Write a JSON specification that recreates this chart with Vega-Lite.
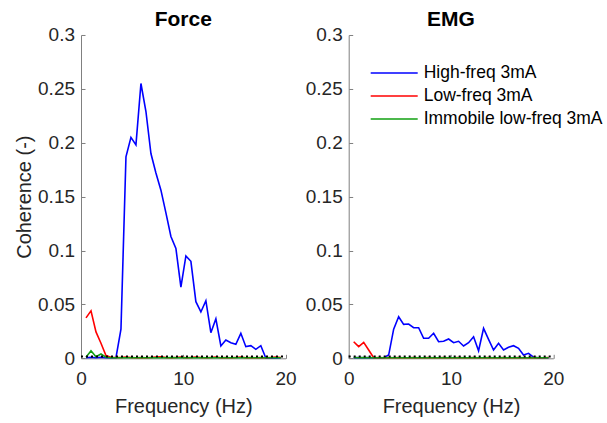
{
  "$schema": "https://vega.github.io/schema/vega-lite/v6.json",
  "background": "white",
  "padding": {"left": 14, "top": 9, "right": 5, "bottom": 5},
  "datasets": {
    "force": [
      {"f": 0.488, "High-freq 3mA": 0.0005, "Low-freq 3mA": 0.0375, "Immobile low-freq 3mA": 0.001},
      {"f": 0.977, "High-freq 3mA": 0.001, "Low-freq 3mA": 0.044, "Immobile low-freq 3mA": 0.007},
      {"f": 1.465, "High-freq 3mA": 0.0005, "Low-freq 3mA": 0.0245, "Immobile low-freq 3mA": 0.0015},
      {"f": 1.953, "High-freq 3mA": 0.001, "Low-freq 3mA": 0.014, "Immobile low-freq 3mA": 0.004},
      {"f": 2.441, "High-freq 3mA": 0.0005, "Low-freq 3mA": 0.0025, "Immobile low-freq 3mA": 0.001},
      {"f": 2.93, "High-freq 3mA": 0.0005, "Low-freq 3mA": 0.001, "Immobile low-freq 3mA": 0.0005},
      {"f": 3.418, "High-freq 3mA": 0.0005, "Low-freq 3mA": 0.0008, "Immobile low-freq 3mA": 0.0005},
      {"f": 3.906, "High-freq 3mA": 0.027, "Low-freq 3mA": 0.0008, "Immobile low-freq 3mA": 0.0005},
      {"f": 4.395, "High-freq 3mA": 0.187, "Low-freq 3mA": 0.0012, "Immobile low-freq 3mA": 0.0005},
      {"f": 4.883, "High-freq 3mA": 0.205, "Low-freq 3mA": 0.0008, "Immobile low-freq 3mA": 0.0005},
      {"f": 5.371, "High-freq 3mA": 0.198, "Low-freq 3mA": 0.0005, "Immobile low-freq 3mA": 0.0005},
      {"f": 5.859, "High-freq 3mA": 0.255, "Low-freq 3mA": 0.0008, "Immobile low-freq 3mA": 0.0005},
      {"f": 6.348, "High-freq 3mA": 0.229, "Low-freq 3mA": 0.0005, "Immobile low-freq 3mA": 0.0005},
      {"f": 6.836, "High-freq 3mA": 0.19, "Low-freq 3mA": 0.0008, "Immobile low-freq 3mA": 0.0005},
      {"f": 7.324, "High-freq 3mA": 0.172, "Low-freq 3mA": 0.0012, "Immobile low-freq 3mA": 0.0005},
      {"f": 7.813, "High-freq 3mA": 0.156, "Low-freq 3mA": 0.0015, "Immobile low-freq 3mA": 0.0005},
      {"f": 8.301, "High-freq 3mA": 0.135, "Low-freq 3mA": 0.0008, "Immobile low-freq 3mA": 0.0005},
      {"f": 8.789, "High-freq 3mA": 0.113, "Low-freq 3mA": 0.0005, "Immobile low-freq 3mA": 0.0008},
      {"f": 9.277, "High-freq 3mA": 0.102, "Low-freq 3mA": 0.0008, "Immobile low-freq 3mA": 0.0005},
      {"f": 9.766, "High-freq 3mA": 0.066, "Low-freq 3mA": 0.0012, "Immobile low-freq 3mA": 0.0005},
      {"f": 10.254, "High-freq 3mA": 0.095, "Low-freq 3mA": 0.0005, "Immobile low-freq 3mA": 0.0005},
      {"f": 10.742, "High-freq 3mA": 0.09, "Low-freq 3mA": 0.0008, "Immobile low-freq 3mA": 0.0005},
      {"f": 11.23, "High-freq 3mA": 0.0525, "Low-freq 3mA": 0.0012, "Immobile low-freq 3mA": 0.0005},
      {"f": 11.719, "High-freq 3mA": 0.043, "Low-freq 3mA": 0.0008, "Immobile low-freq 3mA": 0.0005},
      {"f": 12.207, "High-freq 3mA": 0.0534, "Low-freq 3mA": 0.0005, "Immobile low-freq 3mA": 0.0005},
      {"f": 12.695, "High-freq 3mA": 0.0238, "Low-freq 3mA": 0.0008, "Immobile low-freq 3mA": 0.0005},
      {"f": 13.184, "High-freq 3mA": 0.0367, "Low-freq 3mA": 0.0012, "Immobile low-freq 3mA": 0.0005},
      {"f": 13.672, "High-freq 3mA": 0.0114, "Low-freq 3mA": 0.0005, "Immobile low-freq 3mA": 0.0005},
      {"f": 14.16, "High-freq 3mA": 0.017, "Low-freq 3mA": 0.0008, "Immobile low-freq 3mA": 0.0005},
      {"f": 14.648, "High-freq 3mA": 0.0145, "Low-freq 3mA": 0.0005, "Immobile low-freq 3mA": 0.0005},
      {"f": 15.137, "High-freq 3mA": 0.013, "Low-freq 3mA": 0.0008, "Immobile low-freq 3mA": 0.0005},
      {"f": 15.625, "High-freq 3mA": 0.0232, "Low-freq 3mA": 0.0012, "Immobile low-freq 3mA": 0.0005},
      {"f": 16.113, "High-freq 3mA": 0.0108, "Low-freq 3mA": 0.0005, "Immobile low-freq 3mA": 0.0005},
      {"f": 16.602, "High-freq 3mA": 0.0117, "Low-freq 3mA": 0.0008, "Immobile low-freq 3mA": 0.0005},
      {"f": 17.09, "High-freq 3mA": 0.0083, "Low-freq 3mA": 0.0005, "Immobile low-freq 3mA": 0.0005},
      {"f": 17.578, "High-freq 3mA": 0.0117, "Low-freq 3mA": 0.0008, "Immobile low-freq 3mA": 0.0005},
      {"f": 18.066, "High-freq 3mA": 0.0003, "Low-freq 3mA": 0.0005, "Immobile low-freq 3mA": 0.0005},
      {"f": 18.555, "High-freq 3mA": 0.0005, "Low-freq 3mA": 0.0008, "Immobile low-freq 3mA": 0.0005},
      {"f": 19.043, "High-freq 3mA": 0.0003, "Low-freq 3mA": 0.0012, "Immobile low-freq 3mA": 0.0005},
      {"f": 19.531, "High-freq 3mA": 0.0005, "Low-freq 3mA": 0.0008, "Immobile low-freq 3mA": 0.0005}
    ],
    "emg": [
      {"f": 0.488, "High-freq 3mA": 0.0005, "Low-freq 3mA": 0.0154, "Immobile low-freq 3mA": 0.0008},
      {"f": 0.977, "High-freq 3mA": 0.0008, "Low-freq 3mA": 0.0108, "Immobile low-freq 3mA": 0.0005},
      {"f": 1.465, "High-freq 3mA": 0.0005, "Low-freq 3mA": 0.0148, "Immobile low-freq 3mA": 0.0008},
      {"f": 1.953, "High-freq 3mA": 0.0008, "Low-freq 3mA": 0.0077, "Immobile low-freq 3mA": 0.0005},
      {"f": 2.441, "High-freq 3mA": 0.0005, "Low-freq 3mA": 0.0005, "Immobile low-freq 3mA": 0.0005},
      {"f": 2.93, "High-freq 3mA": 0.0005, "Low-freq 3mA": 0.0008, "Immobile low-freq 3mA": 0.0005},
      {"f": 3.418, "High-freq 3mA": 0.0005, "Low-freq 3mA": 0.0005, "Immobile low-freq 3mA": 0.0005},
      {"f": 3.906, "High-freq 3mA": 0.003, "Low-freq 3mA": 0.0008, "Immobile low-freq 3mA": 0.0005},
      {"f": 4.395, "High-freq 3mA": 0.027, "Low-freq 3mA": 0.0005, "Immobile low-freq 3mA": 0.0005},
      {"f": 4.883, "High-freq 3mA": 0.0386, "Low-freq 3mA": 0.0008, "Immobile low-freq 3mA": 0.0005},
      {"f": 5.371, "High-freq 3mA": 0.0315, "Low-freq 3mA": 0.0005, "Immobile low-freq 3mA": 0.0005},
      {"f": 5.859, "High-freq 3mA": 0.0318, "Low-freq 3mA": 0.0005, "Immobile low-freq 3mA": 0.0005},
      {"f": 6.348, "High-freq 3mA": 0.0284, "Low-freq 3mA": 0.0008, "Immobile low-freq 3mA": 0.0005},
      {"f": 6.836, "High-freq 3mA": 0.0284, "Low-freq 3mA": 0.0005, "Immobile low-freq 3mA": 0.0005},
      {"f": 7.324, "High-freq 3mA": 0.0186, "Low-freq 3mA": 0.0005, "Immobile low-freq 3mA": 0.0005},
      {"f": 7.813, "High-freq 3mA": 0.0186, "Low-freq 3mA": 0.0008, "Immobile low-freq 3mA": 0.0005},
      {"f": 8.301, "High-freq 3mA": 0.0232, "Low-freq 3mA": 0.0005, "Immobile low-freq 3mA": 0.0005},
      {"f": 8.789, "High-freq 3mA": 0.0154, "Low-freq 3mA": 0.0005, "Immobile low-freq 3mA": 0.0005},
      {"f": 9.277, "High-freq 3mA": 0.0158, "Low-freq 3mA": 0.0008, "Immobile low-freq 3mA": 0.0005},
      {"f": 9.766, "High-freq 3mA": 0.0179, "Low-freq 3mA": 0.0005, "Immobile low-freq 3mA": 0.0005},
      {"f": 10.254, "High-freq 3mA": 0.0145, "Low-freq 3mA": 0.0005, "Immobile low-freq 3mA": 0.0005},
      {"f": 10.742, "High-freq 3mA": 0.0158, "Low-freq 3mA": 0.0008, "Immobile low-freq 3mA": 0.0005},
      {"f": 11.23, "High-freq 3mA": 0.0114, "Low-freq 3mA": 0.0005, "Immobile low-freq 3mA": 0.0005},
      {"f": 11.719, "High-freq 3mA": 0.0145, "Low-freq 3mA": 0.0005, "Immobile low-freq 3mA": 0.0005},
      {"f": 12.207, "High-freq 3mA": 0.02, "Low-freq 3mA": 0.0008, "Immobile low-freq 3mA": 0.0005},
      {"f": 12.695, "High-freq 3mA": 0.007, "Low-freq 3mA": 0.0005, "Immobile low-freq 3mA": 0.0005},
      {"f": 13.184, "High-freq 3mA": 0.0278, "Low-freq 3mA": 0.0005, "Immobile low-freq 3mA": 0.0005},
      {"f": 13.672, "High-freq 3mA": 0.0176, "Low-freq 3mA": 0.0008, "Immobile low-freq 3mA": 0.0005},
      {"f": 14.16, "High-freq 3mA": 0.0077, "Low-freq 3mA": 0.0005, "Immobile low-freq 3mA": 0.0005},
      {"f": 14.648, "High-freq 3mA": 0.0139, "Low-freq 3mA": 0.0005, "Immobile low-freq 3mA": 0.0005},
      {"f": 15.137, "High-freq 3mA": 0.0077, "Low-freq 3mA": 0.0008, "Immobile low-freq 3mA": 0.0005},
      {"f": 15.625, "High-freq 3mA": 0.0102, "Low-freq 3mA": 0.0005, "Immobile low-freq 3mA": 0.0005},
      {"f": 16.113, "High-freq 3mA": 0.0117, "Low-freq 3mA": 0.0005, "Immobile low-freq 3mA": 0.0005},
      {"f": 16.602, "High-freq 3mA": 0.0093, "Low-freq 3mA": 0.0008, "Immobile low-freq 3mA": 0.0005},
      {"f": 17.09, "High-freq 3mA": 0.003, "Low-freq 3mA": 0.0005, "Immobile low-freq 3mA": 0.0005},
      {"f": 17.578, "High-freq 3mA": 0.0046, "Low-freq 3mA": 0.0005, "Immobile low-freq 3mA": 0.0005},
      {"f": 18.066, "High-freq 3mA": 0.001, "Low-freq 3mA": 0.0008, "Immobile low-freq 3mA": 0.0005},
      {"f": 18.555, "High-freq 3mA": 0.0005, "Low-freq 3mA": 0.0005, "Immobile low-freq 3mA": 0.0005},
      {"f": 19.043, "High-freq 3mA": 0.0005, "Low-freq 3mA": 0.0005, "Immobile low-freq 3mA": 0.0005},
      {"f": 19.531, "High-freq 3mA": 0.0005, "Low-freq 3mA": 0.0008, "Immobile low-freq 3mA": 0.0005}
    ],
    "thr": [{"f0": 0, "f1": 19.8, "c": 0.0017}]
  },
  "spacing": 62.7,
  "bounds": "flush",
  "resolve": {"legend": {"color": "independent"}},
  "hconcat": [
    {
      "width": 204.6,
      "height": 323.3,
      "title": {"text": "Force"},
      "layer": [
        {
          "data": {"name": "force"},
          "transform": [{"fold": ["High-freq 3mA", "Low-freq 3mA", "Immobile low-freq 3mA"], "as": ["series", "c"]}],
          "mark": {"type": "line", "strokeWidth": 1.6},
          "encoding": {
            "x": {"field": "f", "type": "quantitative", "scale": {"domain": [0, 20], "nice": false},
                  "axis": {"values": [0, 10, 20], "title": "Frequency (Hz)", "tickSize": -4, "labelPadding": 15, "titlePadding": 8, "labelFlush": false}},
            "y": {"field": "c", "type": "quantitative", "scale": {"domain": [0, 0.3], "nice": false},
                  "axis": {"values": [0, 0.05, 0.1, 0.15, 0.2, 0.25, 0.3], "format": "~g", "title": "Coherence (-)", "tickSize": -4, "labelPadding": 10.5, "titlePadding": 3, "labelFlush": false}},
            "color": {"field": "series", "type": "nominal",
                      "scale": {"domain": ["High-freq 3mA", "Low-freq 3mA", "Immobile low-freq 3mA"], "range": ["#0000ff", "#ff0000", "#10a010"]},
                      "legend": null}
          }
        },
        {
          "data": {"name": "thr"},
          "mark": {"type": "rule", "color": "black", "strokeDash": [2, 3], "strokeWidth": 2},
          "encoding": {
            "x": {"field": "f0", "type": "quantitative"},
            "x2": {"field": "f1"},
            "y": {"field": "c", "type": "quantitative"}
          }
        }
      ]
    },
    {
      "width": 204.6,
      "height": 323.3,
      "title": {"text": "EMG"},
      "layer": [
        {
          "data": {"name": "emg"},
          "transform": [{"fold": ["High-freq 3mA", "Low-freq 3mA", "Immobile low-freq 3mA"], "as": ["series", "c"]}],
          "mark": {"type": "line", "strokeWidth": 1.6},
          "encoding": {
            "x": {"field": "f", "type": "quantitative", "scale": {"domain": [0, 20], "nice": false},
                  "axis": {"values": [0, 10, 20], "title": "Frequency (Hz)", "tickSize": -4, "labelPadding": 15, "titlePadding": 8, "labelFlush": false}},
            "y": {"field": "c", "type": "quantitative", "scale": {"domain": [0, 0.3], "nice": false},
                  "axis": {"values": [0, 0.05, 0.1, 0.15, 0.2, 0.25, 0.3], "format": "~g", "title": null, "tickSize": -4, "labelPadding": 10.5, "labelFlush": false}},
            "color": {"field": "series", "type": "nominal",
                      "scale": {"domain": ["High-freq 3mA", "Low-freq 3mA", "Immobile low-freq 3mA"], "range": ["#0000ff", "#ff0000", "#10a010"]},
                      "legend": {"orient": "none", "legendX": 21, "legendY": 29, "title": null, "padding": 0,
                                 "symbolType": "stroke", "symbolSize": 2209, "symbolStrokeWidth": 1.5, "clipHeight": 18, "rowPadding": 5,
                                 "labelFontSize": 17.5, "labelOffset": 5, "labelLimit": 0, "labelColor": "#000000", "labelFont": "Liberation Sans"}}
          }
        },
        {
          "data": {"name": "thr"},
          "mark": {"type": "rule", "color": "black", "strokeDash": [2, 3], "strokeWidth": 2},
          "encoding": {
            "x": {"field": "f0", "type": "quantitative"},
            "x2": {"field": "f1"},
            "y": {"field": "c", "type": "quantitative"}
          }
        }
      ]
    }
  ],
  "config": {
    "view": {"stroke": null},
    "font": "Liberation Sans",
    "axis": {"domainColor": "#808080", "tickColor": "#808080", "labelColor": "#262626", "titleColor": "#262626",
             "labelFontSize": 19, "titleFontSize": 20, "titleFontWeight": "normal", "grid": false,
             "labelFont": "Liberation Sans", "titleFont": "Liberation Sans"},
    "title": {"fontSize": 21, "fontWeight": "bold", "color": "#000000", "font": "Liberation Sans", "anchor": "middle", "offset": -4}
  }
}
